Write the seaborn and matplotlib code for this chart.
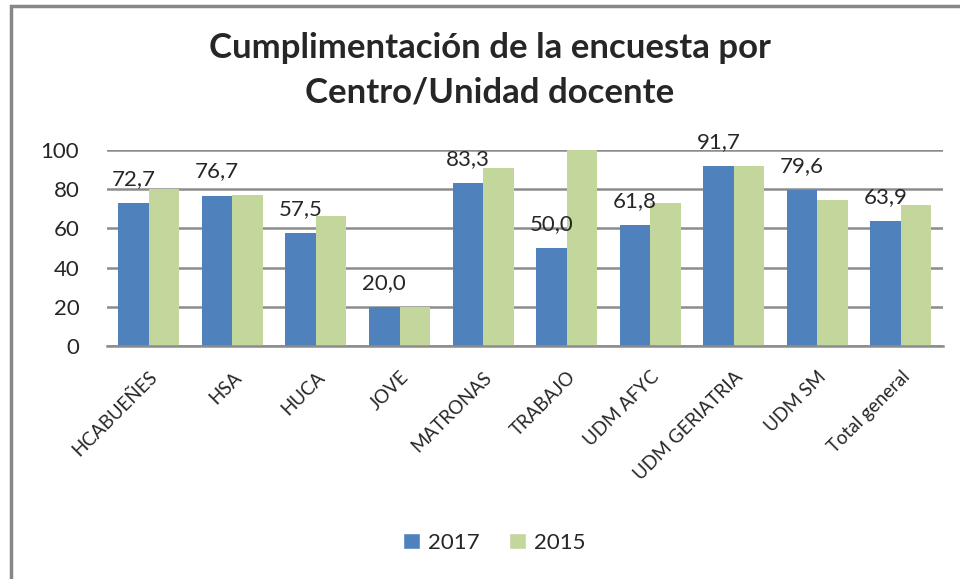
import matplotlib
matplotlib.use("Agg")
import matplotlib.pyplot as plt
from matplotlib.patches import Rectangle, Patch
import seaborn as sb
import pandas as pd

# Data
centros = ["HCABUEÑES", "HSA", "HUCA", "JOVE", "MATRONAS", "TRABAJO",
           "UDM AFYC", "UDM GERIATRIA", "UDM SM", "Total general"]
valores_2017 = [72.7, 76.7, 57.5, 20.0, 83.3, 50.0, 61.8, 91.7, 79.6, 63.9]
valores_2015 = [80.0, 77.0, 66.3, 20.0, 90.8, 100.0, 72.9, 91.7, 74.5, 71.9]
years = ["2017", "2015"]
colors = ["#4F81BD", "#C3D69B"]

df = pd.DataFrame({"centro": centros * 2,
                   "valor": valores_2017 + valores_2015,
                   "año": [years[0]] * len(centros) + [years[1]] * len(centros)})

sb.set_style("white")
plt.rcParams["font.family"] = ["Lato", "DejaVu Sans"]

fig = plt.figure(figsize=(9.6, 5.79), dpi=100)
ax = fig.add_axes([0.1115, 0.4024, 0.8705, 0.3386])

sb.barplot(data=df, x="centro", y="valor", hue="año", palette=colors,
           width=0.73, saturation=1, linewidth=0, ax=ax, legend=False)

ax.set_ylim(0, 100)
ax.set_yticks(range(0, 101, 20))
ax.yaxis.grid(True, color="#8C8C8C", linewidth=1.8)
ax.set_axisbelow(True)
for s in ["top", "right", "left"]:
    ax.spines[s].set_visible(False)
ax.spines["bottom"].set_color("#8C8C8C")
ax.spines["bottom"].set_linewidth(1.8)
ax.set(xlabel="", ylabel="")
ax.tick_params(axis="y", labelsize=16, length=0, pad=20)
ax.tick_params(axis="x", length=0, pad=16)
plt.setp(ax.get_xticklabels(), rotation=45, ha="right", rotation_mode="anchor", fontsize=13.5)

# data labels only for 2017
for bar, v in zip(ax.containers[0], valores_2017):
    ax.annotate(f"{v:.1f}".replace(".", ","),
                (bar.get_x() + bar.get_width() / 2, bar.get_height()),
                xytext=(0, 13), textcoords="offset points",
                ha="center", va="baseline", fontsize=16, annotation_clip=False)

fig.suptitle("Cumplimentación de la encuesta por\nCentro/Unidad docente",
             x=0.51, y=0.945, fontsize=25, fontweight="bold", linespacing=1.5)

handles = [Patch(facecolor=c, label=y) for c, y in zip(colors, years)]
fig.legend(handles=handles, loc="center", bbox_to_anchor=(0.515, 0.062), ncol=2,
           frameon=False, fontsize=16, handlelength=0.75, handleheight=0.75,
           handletextpad=0.4, columnspacing=1.3)

# outer chart frame (only top and left edges visible)
fig.patches.append(Rectangle((11 / 960, -0.1), 1.2, 1.1 - 6 / 579,
                             transform=fig.transFigure, fill=False,
                             edgecolor="#878787", linewidth=2.5, clip_on=False))

fig.savefig("out.png", dpi=100)
